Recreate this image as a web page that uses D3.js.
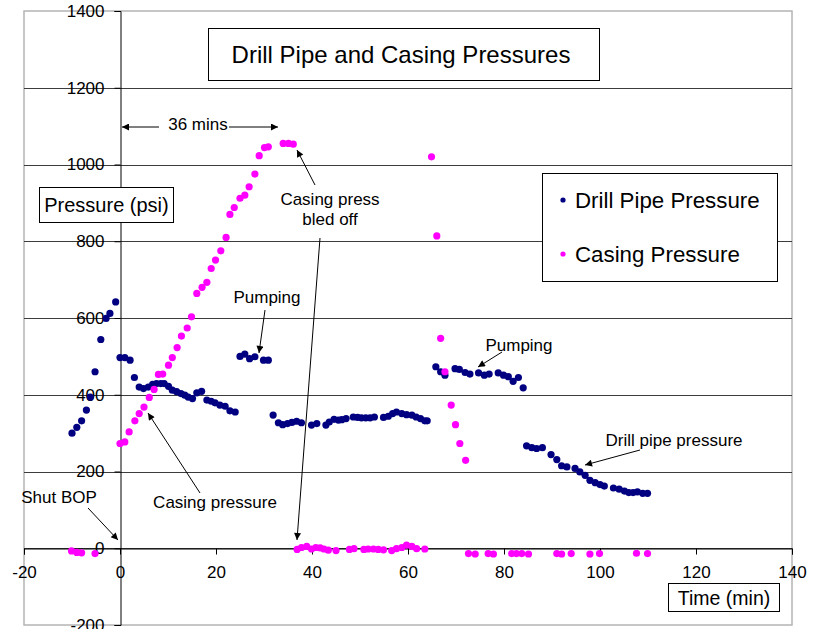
<!DOCTYPE html>
<html>
<head>
<meta charset="utf-8">
<script src="https://cdn.jsdelivr.net/npm/d3@7"></script>
<style>
  body { margin: 0; background: #fff; }
  text { font-family: "Liberation Sans", Arial, sans-serif; fill: #000; }
</style>
</head>
<body>
<div id="chart"></div>
<script>
// Data: time (min) and pressure (psi)
const drillTime = [-10, -9, -8, -7, -6.2, -5.2, -4, -2.9, -2.1, -0.9,
  0, 1, 2.1, 3, 4, 4.9, 5.9, 6.8, 7.6, 8.5, 9.2, 10.1, 10.9, 11.8, 12.7, 13.5, 14.2, 15.1, 16, 17,
  18.1, 19, 19.8, 20.8, 21.9, 22.9, 24,
  25, 26, 27, 28.1, 29.9, 30.9,
  31.9, 33, 33.9, 34.9, 35.8, 36.8, 37.8, 39.9, 41, 42.9, 43.6, 44.6, 45.5, 46.2, 47.1, 48.6, 49.5,
  50.3, 51.2, 52.1, 53, 54.9, 55.9, 56.8, 57.6, 58.7, 59.7, 60.8, 61.7, 62.6, 63.5, 64,
  65.8, 66.8, 67.7, 69.8, 70.7, 71.9, 72.9, 74.7, 75.9, 76.9, 78.8, 79.9, 80.9, 81.9, 83, 84,
  84.7, 85.8, 86.8, 88, 89.8, 91, 92, 93.1, 94.8, 95.8, 96.9, 97.9, 99, 100, 100.9, 102.8, 104,
  105.1, 106, 106.9, 107.8, 108.9, 109.9];
const drillPressure = [300, 315, 332, 360, 394, 460, 544, 599, 612, 642,
  497, 497, 490, 445, 420, 416, 420, 427, 429, 429, 429, 422, 412, 408, 403, 399, 394, 390, 405, 409,
  386, 383, 379, 373, 370, 358, 355,
  500, 506, 494, 499, 490, 490,
  347, 327, 322, 325, 328, 331, 327, 321, 325, 321, 329, 336, 334, 335, 338, 342, 341,
  340, 340, 340, 342, 341, 344, 351, 355, 351, 348, 347, 342, 338, 332, 332,
  473, 460, 451, 468, 466, 458, 454, 457, 451, 454, 457, 451, 447, 435, 445, 418,
  267, 262, 260, 262, 244, 231, 215, 212, 208, 199, 190, 177, 171, 166, 162, 157, 154,
  149, 145, 145, 147, 143, 143];

const casingTime = [-10.1, -9, -8, -5.2,
  0, 1, 1.9, 3.1, 4, 5, 6.1, 7.1, 8, 8.9, 10.1, 10.9, 11.9, 12.8, 14, 14.9,
  16, 17.1, 18.1, 19, 19.9, 21, 22.1, 22.9, 23.8, 25, 26, 26.9, 28.1, 29, 30.1, 30.9, 34, 35.1, 36.1,
  36.9, 37.8, 38.9, 39.9, 40.8, 41.7, 42.5, 43.4, 45, 47.8, 48.75, 50.8, 51.7, 52.8, 53.8, 54.9,
  56.6, 57.6, 58.7, 59.7, 60.8, 61.8, 63.5,
  64.9, 66, 66.8, 67.7, 69, 69.9, 70.8, 72,
  72.6, 74, 76.7, 77.8, 81.6, 82.6, 83.7, 85.1, 91, 92, 94, 97.9, 99.9, 107.6, 109.9];
const casingPressure = [-7, -11, -12, -14,
  273, 277, 303, 332, 351, 368, 393, 414, 453, 454, 477, 497, 523, 553, 574, 603,
  664, 680, 693, 729, 751, 775, 810, 870, 888, 912, 920, 942, 975, 1023, 1044, 1046, 1055, 1055, 1053,
  -3, 2, 5, -2, 2, 1, -2, -5, -6, -3, -1, -3, -2, -2, -3, -4,
  -6, -1, 2, 8, 5, -1, -2,
  1020, 814, 547, 460, 373, 322, 273, 229,
  -14, -15, -14, -15, -14, -14, -14, -15, -14, -15, -14, -15, -14, -13, -14];

const seriesNames = ["Drill Pipe Pressure", "Casing Pressure"];
const seriesColors = ["#000080", "#ff00ff"];
const xTicks = [-20, 0, 20, 40, 60, 80, 100, 120, 140];
const yTicks = [-200, 0, 200, 400, 600, 800, 1000, 1200, 1400];

const W = 814, H = 629;
const plot = {left: 24, top: 11, right: 792, bottom: 625};

const svg = d3.select("#chart").append("svg")
    .attr("width", W)
    .attr("height", H);

const x = d3.scaleLinear().domain([-20, 140]).range([plot.left, plot.right]);
const y = d3.scaleLinear().domain([-200, 1400]).range([plot.bottom, plot.top]);

// plain labels with a hyphen minus, as Excel draws them
const plainFormat = d => String(d);

// arrow head marker
svg.append("defs").append("marker")
    .attr("id", "arrow")
    .attr("viewBox", "0 0 10 10")
    .attr("refX", 10).attr("refY", 5)
    .attr("markerWidth", 9).attr("markerHeight", 7)
    .attr("markerUnits", "userSpaceOnUse")
    .attr("orient", "auto")
    .append("path")
    .attr("d", "M0,0L10,5L0,10Z")
    .attr("fill", "#000");

// Plot area border
svg.append("rect")
    .attr("x", plot.left).attr("y", plot.top)
    .attr("width", plot.right - plot.left)
    .attr("height", plot.bottom - plot.top)
    .attr("fill", "#fff")
    .attr("stroke", "#b4b4b4")
    .attr("stroke-width", 1.5);

// Horizontal gridlines
svg.append("g")
    .selectAll("line")
    .data(yTicks.filter(d => d > -200 && d < 1400))
    .enter().append("line")
    .attr("x1", plot.left).attr("x2", plot.right)
    .attr("y1", d => Math.round(y(d)) + 0.5)
    .attr("y2", d => Math.round(y(d)) + 0.5)
    .attr("stroke", "#3c3c3c")
    .attr("stroke-width", 1);

// Y axis sits at x = 0
const yAxis = svg.append("g")
    .attr("transform", `translate(${Math.round(x(0)) + 0.5},0)`)
    .call(d3.axisLeft(y).tickValues(yTicks).tickFormat(plainFormat).tickSize(6).tickPadding(10));
yAxis.select(".domain").attr("stroke", "#000");
yAxis.selectAll(".tick line").attr("stroke", "#000");
yAxis.selectAll("text")
    .style("font-family", "Liberation Sans, Arial, sans-serif")
    .style("font-size", "17px")
    .attr("fill", "#000");

// X axis sits at y = 0
const xAxis = svg.append("g")
    .attr("transform", `translate(0,${Math.round(y(0)) + 0.5})`)
    .call(d3.axisBottom(x).tickValues(xTicks).tickFormat(plainFormat).tickSize(6).tickPadding(11));
xAxis.select(".domain").attr("stroke", "#000");
xAxis.selectAll(".tick line").attr("stroke", "#000");
xAxis.selectAll("text")
    .style("font-family", "Liberation Sans, Arial, sans-serif")
    .style("font-size", "17px")
    .attr("fill", "#000");

// Points
const drillData = drillTime.map((t, i) => ({t: t, p: drillPressure[i]}));
const casingData = casingTime.map((t, i) => ({t: t, p: casingPressure[i]}));

[drillData, casingData].forEach((data, k) => {
  svg.append("g")
      .selectAll("circle")
      .data(data)
      .enter().append("circle")
      .attr("cx", d => x(d.t))
      .attr("cy", d => y(d.p))
      .attr("r", 3.6)
      .attr("fill", seriesColors[k]);
});

// Title box
svg.append("rect")
    .attr("x", 208.5).attr("y", 28.5)
    .attr("width", 391).attr("height", 52)
    .attr("fill", "#fff").attr("stroke", "#000");
svg.append("text")
    .attr("x", 401).attr("y", 63)
    .attr("text-anchor", "middle")
    .style("font-size", "24px")
    .text("Drill Pipe and Casing Pressures");

// Axis title boxes
function boxedLabel(x0, y0, w, h, label, size) {
  svg.append("rect")
      .attr("x", x0 + 0.5).attr("y", y0 + 0.5)
      .attr("width", w).attr("height", h)
      .attr("fill", "#fff").attr("stroke", "#000");
  svg.append("text")
      .attr("x", x0 + w / 2 + 0.5).attr("y", y0 + h / 2 + 0.5)
      .attr("dy", "0.36em")
      .attr("text-anchor", "middle")
      .style("font-size", size + "px")
      .text(label);
}
boxedLabel(39, 187, 134, 35, "Pressure (psi)", 20);
boxedLabel(668, 583, 111, 28, "Time (min)", 19.5);

// Legend
const legend = svg.append("g");
legend.append("rect")
    .attr("x", 542.5).attr("y", 173.5)
    .attr("width", 235).attr("height", 108)
    .attr("fill", "#fff").attr("stroke", "#000");
seriesNames.forEach((name, i) => {
  legend.append("circle")
      .attr("cx", 563).attr("cy", 200 + i * 54)
      .attr("r", 2.6)
      .attr("fill", seriesColors[i]);
  legend.append("text")
      .attr("x", 575).attr("y", 200 + i * 54)
      .attr("dy", "0.36em")
      .style("font-size", "22.3px")
      .text(name);
});

// Annotations
const notes = [
  {lines: ["36 mins"], x: 198, y: 124},
  {lines: ["Casing press", "bled off"], x: 330, y: 199},
  {lines: ["Pumping"], x: 267, y: 297},
  {lines: ["Pumping"], x: 519, y: 345},
  {lines: ["Drill pipe pressure"], x: 674, y: 440},
  {lines: ["Casing pressure"], x: 215, y: 502},
  {lines: ["Shut BOP"], x: 59, y: 497}
];
notes.forEach(n => {
  n.lines.forEach((s, i) => {
    svg.append("text")
        .attr("x", n.x).attr("y", n.y + i * 20)
        .attr("dy", "0.36em")
        .attr("text-anchor", "middle")
        .style("font-size", "17px")
        .text(s);
  });
});

const arrows = [
  {x1: 159, y1: 127, x2: 122, y2: 127},
  {x1: 229, y1: 127, x2: 278, y2: 127},
  {x1: 315, y1: 185, x2: 297, y2: 150},
  {x1: 320, y1: 238, x2: 297, y2: 540},
  {x1: 265, y1: 310, x2: 259, y2: 353},
  {x1: 502, y1: 352, x2: 478, y2: 367},
  {x1: 640, y1: 450, x2: 585, y2: 465},
  {x1: 200, y1: 493, x2: 148, y2: 413},
  {x1: 88, y1: 508, x2: 118, y2: 540}
];
svg.append("g")
    .selectAll("line")
    .data(arrows)
    .enter().append("line")
    .attr("x1", d => d.x1).attr("y1", d => d.y1)
    .attr("x2", d => d.x2).attr("y2", d => d.y2)
    .attr("stroke", "#000")
    .attr("stroke-width", 1)
    .attr("marker-end", "url(#arrow)");
</script>
</body>
</html>
